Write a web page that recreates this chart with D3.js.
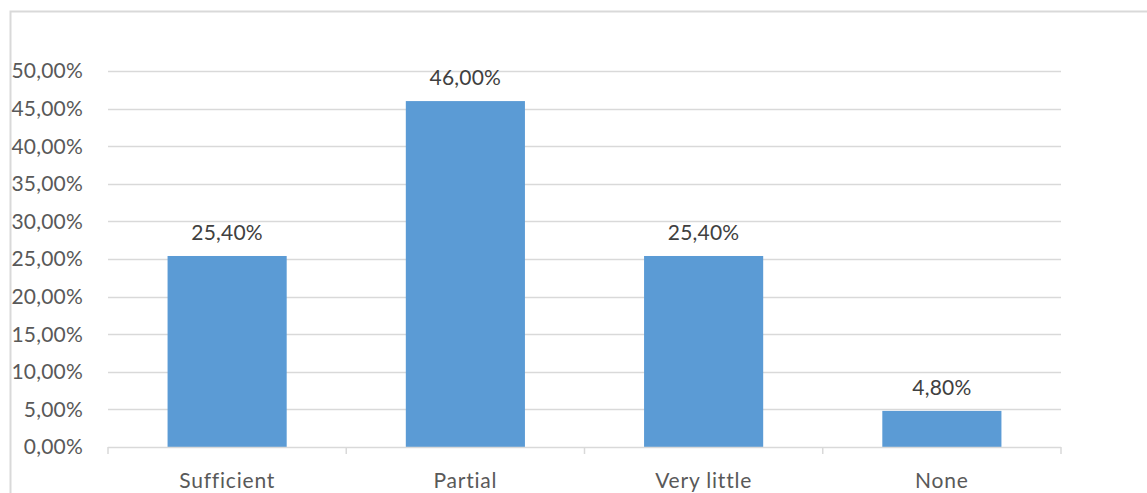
<!DOCTYPE html>
<html>
<head>
<meta charset="utf-8">
<script src="https://cdn.jsdelivr.net/npm/d3@7"></script>
<style>
  body { margin: 0; background: #fff; }
  svg { display: block; }
</style>
</head>
<body>
<svg width="1147" height="493"></svg>
<script>
// chart data
const categories = ["Sufficient", "Partial", "Very little", "None"];
const values = [25.4, 46.0, 25.4, 4.8];
const yTicks = [0, 5, 10, 15, 20, 25, 30, 35, 40, 45, 50];

const svg = d3.select("svg");
const width = +svg.attr("width");
const height = +svg.attr("height");

const margin = { left: 108, right: 86, top: 71, bottom: 46 };
const fmt = v => d3.format(".2f")(v).replace(".", ",") + "%";
const font = "Lato, 'Open Sans', sans-serif";
const textColor = "#595959";

// outer chart border
svg.append("rect")
    .attr("x", 10.5).attr("y", 11.5)
    .attr("width", width + 20).attr("height", height + 20)
    .attr("fill", "none")
    .attr("stroke", "#d9d9d9")
    .attr("stroke-width", 2);

const x = d3.scaleBand()
    .domain(categories)
    .range([margin.left, width - margin.right])
    .paddingInner(0.5)
    .paddingOuter(0.25);

const y = d3.scaleLinear()
    .domain([0, 50])
    .range([height - margin.bottom, margin.top]);

// gridlines
svg.append("g")
    .selectAll("line")
    .data(yTicks.filter(d => d > 0))
    .enter().append("line")
    .attr("x1", margin.left)
    .attr("x2", width - margin.right)
    .attr("y1", d => Math.round(y(d)) + 0.5)
    .attr("y2", d => Math.round(y(d)) + 0.5)
    .attr("stroke", "#d9d9d9")
    .attr("stroke-width", 1.5);

// y tick labels
svg.append("g")
    .style("font", `21px ${font}`)
    .style("letter-spacing", "0.2px")
    .selectAll("text")
    .data(yTicks)
    .enter().append("text")
    .attr("x", 83)
    .attr("y", d => y(d))
    .attr("dy", "0.35em")
    .attr("text-anchor", "end")
    .attr("fill", textColor)
    .text(d => fmt(d));

// bars
svg.append("g")
    .selectAll("rect")
    .data(values)
    .enter().append("rect")
    .attr("x", (d, i) => x(categories[i]))
    .attr("y", d => y(d))
    .attr("width", x.bandwidth())
    .attr("height", d => y(0) - y(d))
    .attr("fill", "#5b9bd5");

// x axis line with ticks at category boundaries
const step = x.step();
const bounds = d3.range(categories.length + 1).map(i => margin.left + i * step);
const axis = svg.append("g").attr("stroke", "#d9d9d9").attr("stroke-width", 1.5);
axis.append("line")
    .attr("x1", margin.left).attr("x2", width - margin.right)
    .attr("y1", y(0) + 0.5).attr("y2", y(0) + 0.5);
axis.selectAll(".tick")
    .data(bounds)
    .enter().append("line")
    .attr("x1", d => d).attr("x2", d => d)
    .attr("y1", y(0)).attr("y2", y(0) + 7);

// value labels
svg.append("g")
    .style("font", `21px ${font}`)
    .style("letter-spacing", "0.2px")
    .selectAll("text")
    .data(values)
    .enter().append("text")
    .attr("x", (d, i) => x(categories[i]) + x.bandwidth() / 2)
    .attr("y", d => y(d) - 16)
    .attr("text-anchor", "middle")
    .attr("fill", "#404040")
    .text(d => fmt(d));

// category labels
svg.append("g")
    .style("font", `21px ${font}`)
    .style("letter-spacing", "0.8px")
    .selectAll("text")
    .data(categories)
    .enter().append("text")
    .attr("x", d => x(d) + x.bandwidth() / 2)
    .attr("y", 488)
    .attr("text-anchor", "middle")
    .attr("fill", textColor)
    .text(d => d);
</script>
</body>
</html>
